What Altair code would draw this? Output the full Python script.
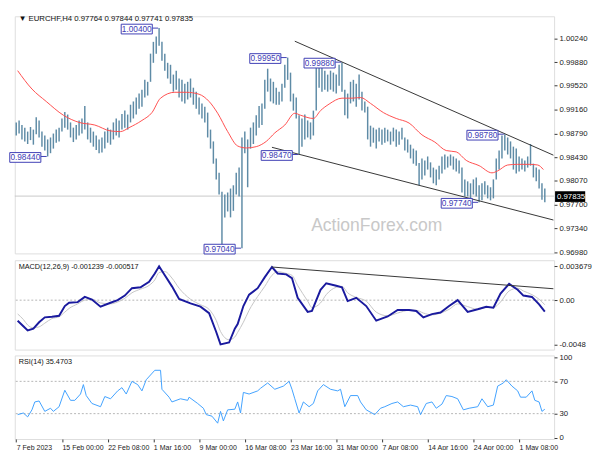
import altair as alt
import pandas as pd

# ---------------- data ----------------
# price bars, sampled every 2nd H4 bar (bar index)
bar_idx = list(range(0, 372, 2))
bar_high = [
    0.9896, 0.9899, 0.9892, 0.9888, 0.9882, 0.9889, 0.9885, 0.9904, 0.9899, 0.9882,
    0.9876, 0.9870, 0.9873, 0.9879, 0.9885, 0.9888, 0.9902, 0.9912, 0.9908, 0.9896,
    0.9888, 0.9892, 0.9899, 0.9902, 0.9921, 0.9896, 0.9888, 0.9882, 0.9876, 0.9870,
    0.9873, 0.9882, 0.9888, 0.9885, 0.9896, 0.9902, 0.9899, 0.9909, 0.9914, 0.9908,
    0.9923, 0.9928, 0.9934, 0.9940, 0.9946, 0.9961, 0.9958, 1.0001, 1.0019, 1.0027,
    1.0040, 1.0019, 1.0001, 0.9987, 0.9984, 0.9969, 0.9975, 0.9963, 0.9961, 0.9955,
    0.9958, 0.9963, 0.9949, 0.9943, 0.9934, 0.9925, 0.9920, 0.9911, 0.9885, 0.9867,
    0.9841, 0.9819, 0.9790, 0.9786, 0.9789, 0.9795, 0.9800, 0.9819, 0.9827, 0.9873,
    0.9882, 0.9870, 0.9888, 0.9896, 0.9907, 0.9921, 0.9925, 0.9961, 0.9978, 0.9963,
    0.9958, 0.9949, 0.9943, 0.9955, 0.9984, 0.9995, 0.9972, 0.9940, 0.9934, 0.9907,
    0.9902, 0.9908, 0.9899, 0.9896, 0.9914, 0.9984, 0.9987, 0.9979, 0.9975, 0.9969,
    0.9975, 0.9972, 0.9969, 0.9984, 0.9988, 0.9946, 0.9940, 0.9958, 0.9961, 0.9955,
    0.9969, 0.9943, 0.9928, 0.9920, 0.9891, 0.9888, 0.9885, 0.9888, 0.9885, 0.9888,
    0.9885, 0.9882, 0.9888, 0.9885, 0.9882, 0.9888, 0.9873, 0.9870, 0.9862, 0.9856,
    0.9853, 0.9834, 0.9841, 0.9838, 0.9844, 0.9835, 0.9827, 0.9824, 0.9830, 0.9844,
    0.9847, 0.9844, 0.9847, 0.9844, 0.9841, 0.9838, 0.9827, 0.9809, 0.9806, 0.9803,
    0.9809, 0.9812, 0.9800, 0.9803, 0.9806, 0.9800, 0.9797, 0.9809, 0.9841, 0.9853,
    0.9876, 0.9878, 0.9873, 0.9867, 0.9859, 0.9856, 0.9844, 0.9841, 0.9838, 0.9844,
    0.9863, 0.9833, 0.9827, 0.9824, 0.9803, 0.9795,
]
bar_low = [
    0.9876, 0.9879, 0.9870, 0.9867, 0.9863, 0.9869, 0.9862, 0.9878, 0.9873, 0.9859,
    0.9853, 0.9844, 0.9849, 0.9856, 0.9865, 0.9867, 0.9882, 0.9888, 0.9885, 0.9873,
    0.9866, 0.9870, 0.9876, 0.9879, 0.9885, 0.9870, 0.9865, 0.9859, 0.9854, 0.9849,
    0.9850, 0.9856, 0.9865, 0.9862, 0.9870, 0.9876, 0.9873, 0.9885, 0.9888, 0.9885,
    0.9896, 0.9902, 0.9908, 0.9917, 0.9920, 0.9934, 0.9937, 0.9958, 0.9987, 1.0001,
    1.0013, 0.9990, 0.9975, 0.9963, 0.9955, 0.9943, 0.9946, 0.9934, 0.9928, 0.9925,
    0.9931, 0.9934, 0.9923, 0.9917, 0.9908, 0.9902, 0.9896, 0.9873, 0.9856, 0.9833,
    0.9809, 0.9786, 0.9704, 0.9751, 0.9760, 0.9751, 0.9761, 0.9786, 0.9783, 0.9704,
    0.9849, 0.9797, 0.9856, 0.9863, 0.9876, 0.9888, 0.9892, 0.9917, 0.9943, 0.9928,
    0.9925, 0.9923, 0.9923, 0.9928, 0.9949, 0.9961, 0.9928, 0.9914, 0.9902, 0.9847,
    0.9859, 0.9870, 0.9873, 0.9870, 0.9876, 0.9914, 0.9949, 0.9943, 0.9946, 0.9943,
    0.9946, 0.9943, 0.9940, 0.9952, 0.9943, 0.9907, 0.9902, 0.9925, 0.9928, 0.9920,
    0.9931, 0.9914, 0.9911, 0.9870, 0.9859, 0.9865, 0.9856, 0.9867, 0.9862, 0.9865,
    0.9867, 0.9862, 0.9867, 0.9859, 0.9862, 0.9870, 0.9853, 0.9850, 0.9841, 0.9833,
    0.9830, 0.9800, 0.9809, 0.9815, 0.9824, 0.9812, 0.9803, 0.9800, 0.9809, 0.9818,
    0.9824, 0.9827, 0.9830, 0.9824, 0.9821, 0.9818, 0.9789, 0.9783, 0.9783, 0.9780,
    0.9786, 0.9783, 0.9774, 0.9777, 0.9786, 0.9780, 0.9777, 0.9780, 0.9809, 0.9824,
    0.9841, 0.9853, 0.9847, 0.9841, 0.9824, 0.9818, 0.9821, 0.9824, 0.9821, 0.9827,
    0.9830, 0.9812, 0.9806, 0.9795, 0.9778, 0.9774,
]
ma_idx = [1, 11, 21, 33, 44, 55, 66, 73, 79, 88, 95, 101, 111, 119, 128, 135, 141, 148,
          155, 161, 168, 175, 181, 188, 195, 199, 208, 213, 219, 228, 235, 241, 248, 257,
          266, 275, 284, 293, 301, 308, 315, 324, 333, 337, 344, 351, 359, 365, 369]
ma_val = [0.9975, 0.9947, 0.9928, 0.9907, 0.9896, 0.9892, 0.9883, 0.9882, 0.9888, 0.9899,
          0.9911, 0.9933, 0.9942, 0.9942, 0.9939, 0.9928, 0.9910, 0.9882, 0.9860, 0.9857,
          0.9859, 0.9867, 0.9880, 0.9892, 0.9910, 0.9907, 0.9902, 0.9914, 0.9924, 0.9933,
          0.9933, 0.9934, 0.9925, 0.9911, 0.9902, 0.9895, 0.9877, 0.9866, 0.9853, 0.9851,
          0.9838, 0.9830, 0.9819, 0.9822, 0.9831, 0.9832, 0.9832, 0.9831, 0.9824]
last_price = [0.97835]
last_text = ["0.97835"]
channel_idx = [195, 376, 179, 376]
channel_val = [1.0020, 0.9846, 0.9858, 0.9747]
channel_grp = ["upper", "upper", "lower", "lower"]
ann_idx = [22, 100, 158, 190, 198, 228, 342, 324]
ann_val = [0.98440, 1.00400, 0.97040, 0.99950, 0.98470, 0.99880, 0.98780, 0.97740]
ann_txt = ["0.98440", "1.00400", "0.97040", "0.99950", "0.98470", "0.99880", "0.98780", "0.97740"]
price_ticks = [1.00240, 0.99880, 0.99520, 0.99160, 0.98790, 0.98430, 0.98070, 0.97700, 0.97340, 0.96980]
header_txt = ["\u25bc EURCHF,H4  0.97764 0.97844 0.97741 0.97835"]
watermark_txt = ["ActionForex.com"]

macd_idx = [1, 5, 8, 12, 16, 20, 25, 30, 34, 37, 43, 48, 53, 59, 66, 71, 76, 81, 87, 93,
            97, 100, 104, 109, 114, 122, 129, 135, 140, 143, 149, 153, 155, 159, 163, 169,
            174, 179, 183, 189, 193, 197, 204, 207, 213, 217, 224, 228, 232, 238, 245, 252,
            260, 267, 275, 280, 285, 291, 297, 303, 309, 316, 323, 329, 334, 339, 345, 351,
            355, 361, 366, 370]
macd_val = [-0.00223, -0.00283, -0.00329, -0.0031, -0.0024, -0.00187, -0.0018, -0.0017,
            -0.00064, -0.00028, -0.00021, 0.00035, 0.00007, -0.00071, -0.00028, 0.0, 0.0005,
            0.0013, 0.0014, 0.002, 0.0029, 0.00368, 0.0027, 0.0015, 0.00014, -0.00035,
            -0.00071, -0.00141, -0.00346, -0.0048, -0.0046, -0.0031, -0.0026, -0.00064,
            0.0006, 0.0013, 0.0025, 0.0036, 0.0029, 0.0028, 0.0024, 0.00025, -0.00127,
            -0.00117, 0.00113, 0.00184, 0.00156, 0.0014, -0.0001, 0.00025, -0.00064,
            -0.00223, -0.00177, -0.00106, -0.00106, -0.00117, -0.00187, -0.00152, -0.00134,
            -0.00064, 0.0, -0.00127, -0.00099, -0.00071, -0.00081, 0.00071, 0.00177,
            0.00113, 0.0005, 0.00035, -0.00046, -0.00124]
signal_val = [-0.0015, -0.0021, -0.0027, -0.0030, -0.0029, -0.0025, -0.0020, -0.0018, -0.0013, -0.0009,
              -0.0004, 0.0000, 0.0001, -0.0003, -0.0004, -0.0002, 0.0002, 0.0008, 0.0012, 0.0016,
              0.0022, 0.0030, 0.0031, 0.0024, 0.0013, 0.0001, -0.0005, -0.0010, -0.0022, -0.0034,
              -0.0043, -0.0040, -0.0035, -0.0024, -0.0011, 0.0004, 0.0015, 0.0027, 0.0031, 0.0029,
              0.0027, 0.0016, -0.0001, -0.0008, -0.0003, 0.0006, 0.0014, 0.0015, 0.0008, 0.0003,
              -0.0001, -0.0013, -0.0017, -0.0014, -0.0011, -0.0011, -0.0014, -0.0016, -0.0014, -0.0010,
              -0.0004, -0.0007, -0.0010, -0.0008, -0.0008, -0.0002, 0.0010, 0.0013, 0.0010, 0.0006,
              0.0001, -0.0005]
macd_tl_idx = [179, 376]
macd_tl_val = [0.0036, 0.00124]
macd_tick_vals = [0.003679, 0.0, -0.0048]
macd_tick_txt = ["0.003679", "0.00", "-0.0048"]
macd_header = ["MACD(12,26,9) -0.001239 -0.000517"]

rsi_idx = [1, 5, 8, 11, 13, 16, 20, 24, 26, 30, 34, 38, 41, 45, 47, 49, 53, 59, 62, 66,
           71, 74, 77, 81, 85, 88, 91, 97, 101, 102, 107, 109, 115, 120, 121, 127, 131, 133,
           137, 141, 143, 145, 148, 153, 155, 157, 159, 163, 169, 171, 176, 181, 187, 191,
           193, 195, 198, 201, 205, 208, 211, 215, 220, 225, 227, 230, 234, 239, 241, 245,
           251, 255, 258, 263, 267, 271, 276, 281, 283, 287, 291, 294, 298, 301, 305, 309,
           313, 317, 323, 326, 330, 334, 337, 341, 343, 347, 351, 353, 357, 361, 363, 366,
           368, 370]
rsi_val = [28.8, 30.8, 26, 34.7, 44.5, 45.7, 32.8, 36.7, 32.8, 38.6, 59, 46.5, 46.5, 54.3,
           66, 52.4, 42.6, 38.6, 51.2, 48.4, 58.2, 62.2, 54.3, 70, 66, 58.2, 72, 83.7, 83.7,
           60.2, 50.4, 44.5, 48.4, 46.5, 50.4, 42.6, 36.7, 28.8, 26.9, 18.2, 32.8, 21, 34.7,
           35.5, 44.5, 30.8, 56.3, 54.3, 58.2, 61.4, 68, 60.2, 64.1, 70, 60.2, 48.4, 30.8,
           44.5, 38.6, 42.6, 58.2, 66, 60.2, 58.2, 60.2, 38.6, 52.4, 52.4, 44.5, 34.7, 28.8,
           36.7, 38.6, 42.6, 44.5, 38.6, 40.6, 38.6, 28.8, 42.6, 44.5, 36.7, 41.8, 52.4, 51.2,
           48.4, 34.7, 36.7, 38.6, 48.4, 38.6, 40.6, 64.1, 68, 72, 64.1, 58.2, 50.4, 50.4,
           58.2, 46.5, 44.5, 32.8, 35.5]
rsi_levels = [30, 70]
rsi_ticks = [0, 30, 70, 100]
rsi_header = ["RSI(14) 35.4703"]

time_idx = [0, 32, 64, 96, 128, 160, 192, 224, 256, 288, 320, 352]
time_txt = ["7 Feb 2023", "15 Feb 00:00", "22 Feb 08:00", "1 Mar 16:00", "9 Mar 00:00",
            "16 Mar 08:00", "23 Mar 16:00", "31 Mar 00:00", "7 Apr 08:00", "14 Apr 16:00",
            "24 Apr 00:00", "1 May 08:00"]

# ---------------- styling ----------------
W = 555
H_PRICE, H_MACD, H_RSI = 244, 92, 86
FONT = "Liberation Sans"
BAR_C = "#5e8ba6"
MA_C = "#ff4b4b"
ANN_C = "#3c3cb4"
MACD_C = "#1a1a9e"
SIG_C = "#c4c4c4"
RSI_C = "#3ea0ff"

xs = alt.Scale(domain=[-1, 376.5], nice=False, zero=False)


def label_expr(vals, texts):
    parts = [f"abs(datum.value - ({v})) < 1e-7 ? '{t}'" for v, t in zip(vals, texts)]
    return " : ".join(parts) + " : ''"


def yaxis(values, fmt=None, expr=None):
    kw = dict(orient="right", values=values, title=None, grid=False, domain=False,
              ticks=True, tickSize=3, tickColor="#333", labelFontSize=8,
              labelColor="#222", labelPadding=2, labelFont=FONT, labelOverlap=False)
    if fmt:
        kw["format"] = fmt
    if expr:
        kw["labelExpr"] = expr
    return alt.Axis(**kw)


# ---------------- price panel ----------------
ys = alt.Scale(domain=[0.9696, 1.0058], nice=False, zero=False)
p_axis = yaxis(price_ticks, fmt=".5f")


def PX(f):
    return alt.X(f, type="quantitative", scale=xs, axis=None)


def PY(f):
    return alt.Y(f, type="quantitative", scale=ys, axis=p_axis)


bars_df = pd.DataFrame({"i": bar_idx, "hi": bar_high, "lo": bar_low})
ma_df = pd.DataFrame({"i": ma_idx, "v": ma_val})
last_df = pd.DataFrame({"p": last_price, "t": last_text})
chan_df = pd.DataFrame({"i": channel_idx, "v": channel_val, "g": channel_grp})
ann_df = pd.DataFrame({"i": ann_idx, "p": ann_val, "t": ann_txt})

cur_line = alt.Chart(last_df).mark_rule(color="#c8c8c8", strokeWidth=1).encode(y=PY("p"))
watermark = alt.Chart(pd.DataFrame({"t": watermark_txt})).mark_text(
    align="left", baseline="middle", fontSize=18, font=FONT, color="#c8c8c8"
).encode(x=alt.value(305), y=alt.value(216), text="t:N")
bars = alt.Chart(bars_df).mark_rule(color=BAR_C, strokeWidth=1.5).encode(
    x=PX("i"), y=PY("lo"), y2="hi")
ma = alt.Chart(ma_df).mark_line(color=MA_C, strokeWidth=1, interpolate="monotone").encode(
    x=PX("i"), y=PY("v"))
chan = alt.Chart(chan_df).mark_line(color="#333333", strokeWidth=1).encode(
    x=PX("i"), y=PY("v"), detail="g:N")
ann_line = alt.Chart(ann_df).mark_rule(color=ANN_C, strokeWidth=1, xOffset=-7, x2Offset=-1).encode(
    x=PX("i"), x2="i", y=PY("p"))
ann_box = alt.Chart(ann_df).mark_rect(
    fill="white", stroke=ANN_C, strokeWidth=1, xOffset=-39, x2Offset=-7, yOffset=-4, y2Offset=6
).encode(x=PX("i"), x2="i", y=PY("p"), y2="p")
ann_text = alt.Chart(ann_df).mark_text(
    fontSize=8.5, font=FONT, color=ANN_C, xOffset=-23, yOffset=1, baseline="middle", align="center"
).encode(x=PX("i"), y=PY("p"), text="t:N")
last_box = alt.Chart(last_df).mark_rect(color="black", yOffset=-5, y2Offset=6).encode(
    x=alt.value(W + 1), x2=alt.value(W + 32), y=PY("p"), y2="p")
last_lbl = alt.Chart(last_df).mark_text(
    fontSize=8, font=FONT, color="white", align="left", baseline="middle", yOffset=0.5
).encode(x=alt.value(W + 3), y=PY("p"), text="t:N")
header = alt.Chart(pd.DataFrame({"t": header_txt})).mark_text(
    align="left", baseline="middle", fontSize=8, font=FONT, color="#111"
).encode(x=alt.value(4), y=alt.value(3), text="t:N")

price = alt.layer(cur_line, watermark, bars, ma, chan, ann_line, ann_box, ann_text,
                  last_box, last_lbl, header).properties(width=W, height=H_PRICE)

# ---------------- MACD panel ----------------
ms = alt.Scale(domain=[-0.00537, 0.00434], nice=False, zero=False)
m_axis = yaxis(macd_tick_vals, expr=label_expr(macd_tick_vals, macd_tick_txt))


def MY(f):
    return alt.Y(f, type="quantitative", scale=ms, axis=m_axis)


macd_df = pd.DataFrame({"i": macd_idx, "m": macd_val, "s": signal_val})
mtl_df = pd.DataFrame({"i": macd_tl_idx, "v": macd_tl_val})

zero = alt.Chart(pd.DataFrame({"z": [0.0]})).mark_rule(
    color="#b4b4b4", strokeDash=[2, 2], strokeWidth=1).encode(y=MY("z"))
sig = alt.Chart(macd_df).mark_line(color=SIG_C, strokeWidth=1, interpolate="monotone").encode(
    x=PX("i"), y=MY("s"))
mline = alt.Chart(macd_df).mark_line(color=MACD_C, strokeWidth=2, interpolate="linear").encode(
    x=PX("i"), y=MY("m"))
mtl = alt.Chart(mtl_df).mark_line(color="#333333", strokeWidth=1).encode(x=PX("i"), y=MY("v"))
mhead = alt.Chart(pd.DataFrame({"t": macd_header})).mark_text(
    align="left", baseline="middle", fontSize=7.5, font=FONT, color="#111"
).encode(x=alt.value(4), y=alt.value(7), text="t:N")

macd = alt.layer(zero, sig, mline, mtl, mhead).properties(width=W, height=H_MACD)

# ---------------- RSI panel ----------------
rs = alt.Scale(domain=[-1.4, 102.1], nice=False, zero=False)
r_axis = yaxis(rsi_ticks, fmt="d")
x_axis = alt.Axis(values=time_idx, labelExpr=label_expr(time_idx, time_txt), title=None,
                  grid=False, domain=False, ticks=True, tickSize=3, tickColor="#333",
                  labelFontSize=7.2, labelFont=FONT, labelColor="#222", labelAlign="left",
                  labelPadding=2, labelOverlap=False, labelFlush=False)


def RX(f):
    return alt.X(f, type="quantitative", scale=xs, axis=x_axis)


def RY(f):
    return alt.Y(f, type="quantitative", scale=rs, axis=r_axis)


rsi_df = pd.DataFrame({"i": rsi_idx, "r": rsi_val})
lev = alt.Chart(pd.DataFrame({"l": rsi_levels})).mark_rule(
    color="#b4b4b4", strokeDash=[2, 2], strokeWidth=1).encode(y=RY("l"))
rline = alt.Chart(rsi_df).mark_line(color=RSI_C, strokeWidth=1).encode(x=RX("i"), y=RY("r"))
rhead = alt.Chart(pd.DataFrame({"t": rsi_header})).mark_text(
    align="left", baseline="middle", fontSize=7.5, font=FONT, color="#111"
).encode(x=alt.value(4), y=alt.value(7), text="t:N")

rsi = alt.layer(lev, rline, rhead).properties(width=W, height=H_RSI)

chart = alt.vconcat(price, macd, rsi, spacing=2, padding=0).configure_view(
    stroke="#3c3c3c", strokeWidth=1
).configure(background="white")

chart.save("out.html", embed_options={"renderer": "svg", "actions": False})
